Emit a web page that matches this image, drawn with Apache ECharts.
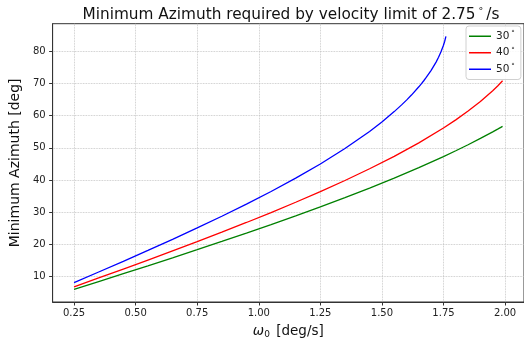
<!DOCTYPE html>
<html>
<head>
<meta charset="utf-8">
<script src="https://cdn.jsdelivr.net/npm/echarts@6/dist/echarts.min.js"></script>
<style>html,body{margin:0;padding:0;background:#fff;}#c{width:524px;height:344px;}</style>
</head>
<body>
<div id="c"></div>
<script>
// omega0 [deg/s] sample points
const omegaA = [0.25,0.35,0.45,0.55,0.65,0.75,0.85,0.95,1.05,1.15,1.25,1.35,1.45,1.55,1.65,1.75,1.80,1.85,1.90,1.95,1.97,1.99];
// 30 deg elevation
const az30 = [6.03,8.45,10.89,13.35,15.84,18.36,20.91,23.51,26.16,28.87,31.66,34.53,37.51,40.60,43.85,47.29,49.10,50.97,52.94,54.96,55.81,56.68];
// 40 deg elevation
const az40 = [6.82,9.56,12.33,15.13,17.97,20.86,23.80,26.81,29.90,33.09,36.40,39.85,43.50,47.37,51.56,56.17,58.70,61.43,64.41,67.77,69.25,70.85];
// 50 deg elevation
const omegaB = [0.25,0.35,0.45,0.55,0.65,0.75,0.85,0.95,1.05,1.15,1.25,1.35,1.45,1.50,1.55,1.58,1.60,1.62,1.65,1.66,1.67,1.68,1.70,1.72,1.73,1.74,1.75,1.755,1.76];
const az50 = [8.13,11.42,14.75,18.13,21.58,25.11,28.74,32.51,36.44,40.59,45.00,49.79,55.11,58.06,61.27,63.36,64.84,66.41,68.98,69.90,70.86,71.88,74.10,76.66,78.15,79.85,81.89,83.14,84.66];

const xTicks = [0.25,0.50,0.75,1.00,1.25,1.50,1.75,2.00];
const yTicks = [10,20,30,40,50,60,70,80];
const seriesNames = ['30{s|°}','40{s|°}','50{s|°}'];

const zip = (xs, ys) => xs.map((x, i) => [x, ys[i]]);

const chart = echarts.init(document.getElementById('c'));
const font = 'DejaVu Sans';
const mkSeries = (name, data, color) => ({
  name, type: 'line', data, symbol: 'none', showSymbol: false,
  lineStyle: { color, width: 1.3 }, itemStyle: { color }, animation: false
});
chart.setOption({
  animation: false,
  title: {
    text: 'Minimum Azimuth required by velocity limit of 2.75{s|°}/s',
    left: 286, top: 2, textAlign: 'center',
    textStyle: {
      fontFamily: font, fontSize: 15.3, fontWeight: 'normal', color: '#111',
      rich: { s: { fontFamily: font, fontSize: 9.5, color: '#111', verticalAlign: 'top', padding: [0, 3, 6, 3] } }
    }
  },
  legend: {
    orient: 'vertical', left: 466, top: 26,
    icon: 'rect', itemWidth: 22, itemHeight: 1.5, itemGap: 4,
    padding: [4, 6, 4, 3],
    backgroundColor: 'rgba(255,255,255,0.85)', borderColor: '#d0d0d0', borderWidth: 1, borderRadius: 3,
    textStyle: {
      fontFamily: font, fontSize: 10.5, color: '#222', lineHeight: 12.5,
      rich: { s: { fontFamily: font, fontSize: 7, color: '#222', verticalAlign: 'top', padding: [0, 0, 4, 2] } }
    },
    data: seriesNames
  },
  grid: { left: 45.7, top: 23.7, right: -5.7, bottom: 39.7, show: true, borderColor: '#333', borderWidth: 1, backgroundColor: '#fff', containLabel: false },
  xAxis: {
    type: 'value', min: 0.163, max: 2.077,
    name: '{w|ω}{sub|0}{n| [deg/s]}', nameLocation: 'middle', nameGap: 22,
    nameTextStyle: {
      fontFamily: font, fontSize: 13, color: '#111',
      rich: {
        w: { fontFamily: font, fontSize: 13.5, fontStyle: 'italic', color: '#111' },
        sub: { fontFamily: font, fontSize: 9, color: '#111', verticalAlign: 'bottom', padding: [6, 2, 0, 0] },
        n: { fontFamily: font, fontSize: 13.5, color: '#111' }
      }
    },
    axisLine: { show: true, lineStyle: { color: '#333', width: 1 } },
    axisTick: { show: true, length: 3.5, customValues: xTicks, lineStyle: { color: '#333' } },
    axisLabel: { customValues: xTicks, margin: 6, fontFamily: font, fontSize: 10, color: '#222', formatter: v => v.toFixed(2) },
    splitLine: { show: true, lineStyle: { color: '#bdbdbd', type: 'dotted', width: 0.8 } }
  },
  yAxis: {
    type: 'value', min: 2.094, max: 88.593,
    name: 'Minimum Azimuth [deg]', nameLocation: 'middle', nameGap: 27, nameRotate: 90,
    nameTextStyle: { fontFamily: font, fontSize: 14, color: '#111' },
    axisLine: { show: true, lineStyle: { color: '#333', width: 1 } },
    axisTick: { show: true, length: 3.5, customValues: yTicks, lineStyle: { color: '#333' } },
    axisLabel: { customValues: yTicks, margin: 7, fontFamily: font, fontSize: 10, color: '#222' },
    splitLine: { show: true, lineStyle: { color: '#bdbdbd', type: 'dotted', width: 0.8 } }
  },
  series: [
    mkSeries(seriesNames[0], zip(omegaA, az30), '#008000'),
    mkSeries(seriesNames[1], zip(omegaA, az40), '#ff0000'),
    mkSeries(seriesNames[2], zip(omegaB, az50), '#0000ff')
  ]
});
</script>
</body>
</html>
